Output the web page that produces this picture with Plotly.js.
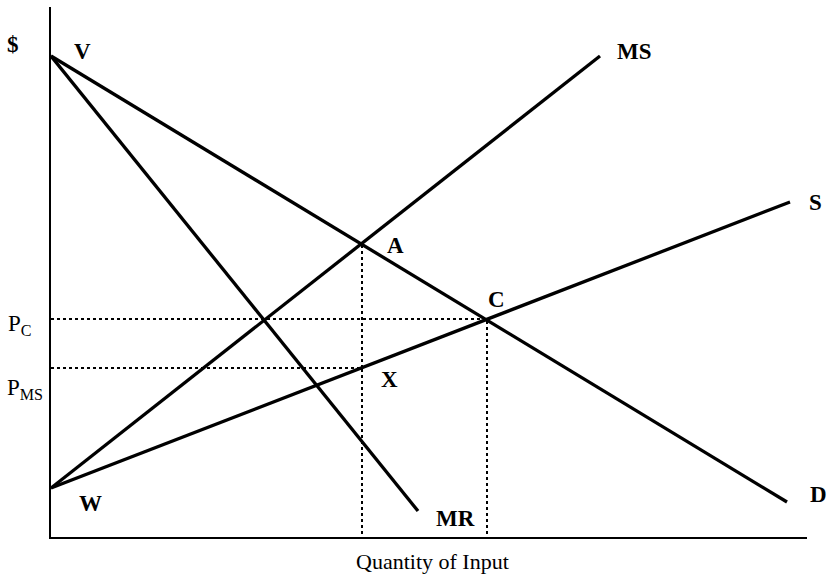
<!DOCTYPE html>
<html>
<head>
<meta charset="utf-8">
<script src="https://cdn.plot.ly/plotly-3.0.1.min.js"></script>
<style>html,body{margin:0;padding:0;background:#fff}</style>
</head>
<body>
<div id="chart" style="width:828px;height:577px"></div>
<script>
// Curve endpoints (quantity, price) in chart units
const dX = [0, 736];   const dY = [481, 35];    // Demand (D)
const mrX = [0, 367];  const mrY = [481, 26];   // Marginal revenue (MR)
const msX = [0, 549];  const msY = [49, 481];   // Marginal supply (MS)
const sX = [0, 739];   const sY = [49, 335];    // Supply (S)

// Key points
const qA = 311, pA = 293;   // A (MS meets D)
const qC = 436, pC = 218;   // C (S meets D) -> P_C
const pMS = 169;            // X on S at qA -> P_MS

const xMax = 756, yMax = 530;

// Curve / point labels: [text, x, y] in chart units
const pointLabels = [
  ['$', -38, 492],
  ['V', 31, 485],
  ['MS', 583, 485],
  ['S', 764, 335],
  ['A', 344, 292],
  ['C', 445, 238],
  ['X', 338, 158],
  ['W', 39, 34],
  ['MR', 404, 19],
  ['D', 767, 43]
];
// Price-axis labels: [text, x, y]
const priceLabels = [
  ['P<sub>C</sub>', -31, 212],
  ['P<sub>MS</sub>', -26, 148]
];
const xTitle = 'Quantity of Input';

const solid = {color: '#000', width: 3.3};
const dotted = {color: '#000', width: 2, dash: 'dot'};

const traces = [
  {x: dX, y: dY, mode: 'lines', line: solid},
  {x: mrX, y: mrY, mode: 'lines', line: solid},
  {x: msX, y: msY, mode: 'lines', line: solid},
  {x: sX, y: sY, mode: 'lines', line: solid},
  {x: [0, qC, qC], y: [pC, pC, 0], mode: 'lines', line: dotted},
  {x: [0, qA, qA], y: [pMS, pMS, 0], mode: 'lines', line: dotted},
  {x: [qA, qA], y: [pMS, pA], mode: 'lines', line: dotted}
].map(t => Object.assign(t, {hoverinfo: 'skip', showlegend: false, cliponaxis: false}));

const font = {family: 'Liberation Serif, Times New Roman, serif', color: '#000'};

const mk = (t, x, y, size) => ({
  text: t, x: x / xMax, y: y / yMax, xref: 'paper', yref: 'paper',
  showarrow: false, xanchor: 'center', yanchor: 'middle',
  font: Object.assign({size: size}, font)
});
const annotations = pointLabels.map(([t, x, y]) => mk('<b>' + t + '</b>', x, y, 23))
  .concat(priceLabels.map(([t, x, y]) => mk(t, x, y, 23)));
annotations.push(mk(xTitle, 381, -24, 22));

const layout = {
  width: 828, height: 577,
  margin: {l: 51, r: 21, t: 7, b: 40},
  paper_bgcolor: '#fff', plot_bgcolor: '#fff',
  showlegend: false,
  xaxis: {range: [0, xMax], showline: true, linecolor: '#000', linewidth: 2,
          showgrid: false, zeroline: false, showticklabels: false, ticks: '', fixedrange: true},
  yaxis: {range: [0, yMax], showline: true, linecolor: '#000', linewidth: 2,
          showgrid: false, zeroline: false, showticklabels: false, ticks: '', fixedrange: true},
  annotations: annotations,
  font: font
};

Plotly.newPlot('chart', traces, layout, {displayModeBar: false, staticPlot: true});
</script>
</body>
</html>
